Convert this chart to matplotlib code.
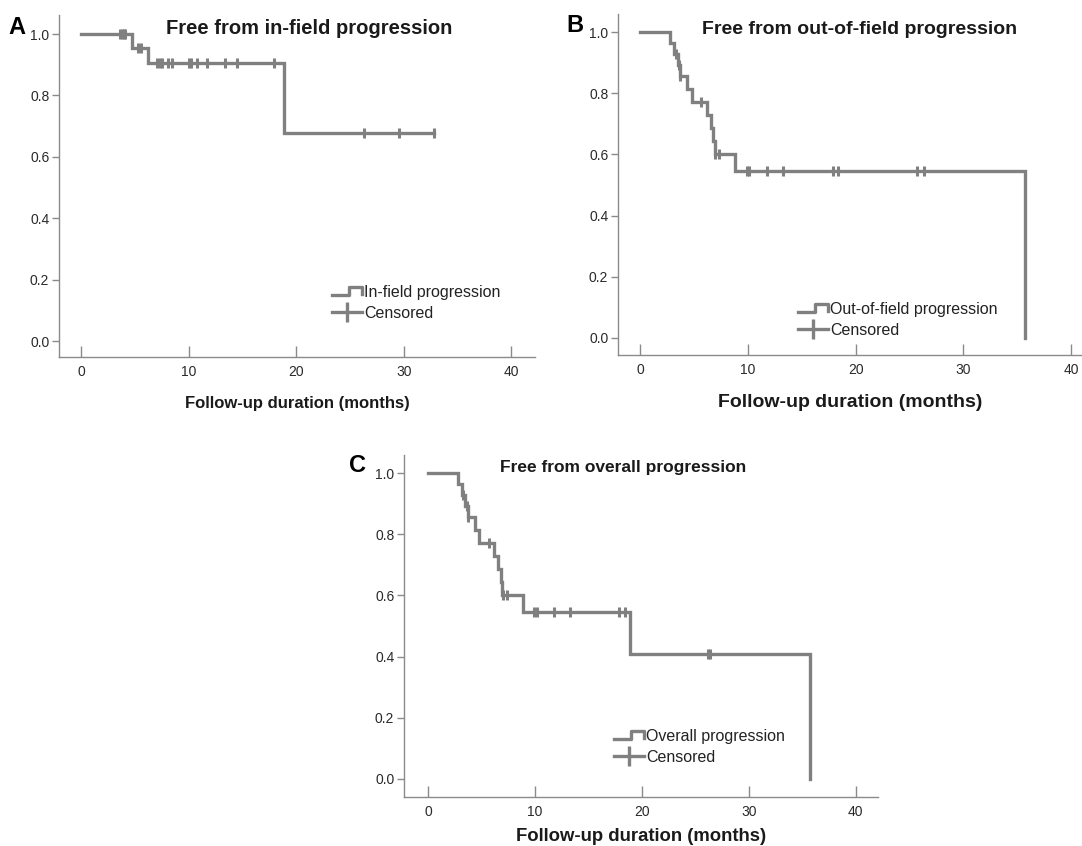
import numpy as np
import matplotlib
matplotlib.use("Agg")
import matplotlib.pyplot as plt
from matplotlib.lines import Line2D
from matplotlib.legend_handler import HandlerBase

plt.rcParams["font.family"] = ["Liberation Sans", "DejaVu Sans"]

# ---- data (months, survival probability) ----
# A: in-field progression
a_event_t = [4.75, 6.25, 18.9]
a_event_s = [0.953, 0.905, 0.679]
a_censor_t = [3.6, 3.8, 3.95, 4.1, 5.3, 5.6, 7.1, 7.3, 7.5, 8.1, 8.5, 10.0, 10.25,
              10.75, 11.75, 13.4, 14.5, 17.9, 26.3, 29.6, 32.8]
a_end = 32.8

# B: out-of-field progression
b_event_t = [2.8, 3.2, 3.5, 3.7, 4.4, 4.8, 6.2, 6.55, 6.8, 6.95, 8.85, 35.7]
b_event_s = [0.965, 0.929, 0.893, 0.855, 0.814, 0.772, 0.729, 0.687, 0.644, 0.601, 0.546, 0.0]
b_censor_t = [3.3, 3.6, 3.75, 5.7, 7.0, 7.35, 9.95, 10.1, 11.75, 13.3, 17.9, 18.4, 25.7, 26.3]
b_end = 35.7

# C: overall progression
c_event_t = [2.8, 3.2, 3.5, 3.7, 4.4, 4.8, 6.2, 6.55, 6.8, 6.95, 8.85, 18.9, 35.7]
c_event_s = [0.965, 0.929, 0.893, 0.855, 0.814, 0.772, 0.729, 0.687, 0.644, 0.601, 0.546, 0.41, 0.0]
c_censor_t = [3.3, 3.6, 3.75, 5.7, 7.0, 7.4, 9.95, 10.15, 11.75, 13.3, 17.9, 18.4, 26.2, 26.4]
c_end = 35.7

x_ticks = [0, 10, 20, 30, 40]
y_ticks = [0.0, 0.2, 0.4, 0.6, 0.8, 1.0]

LINE = "#808080"
AXC = "#8a8a8a"
W, H = 1082, 846


class StepHandler(HandlerBase):
    # legend glyph: little step shape like the KM curve
    def create_artists(self, legend, orig_handle, xdescent, ydescent, width, height, fontsize, trans):
        x0 = -xdescent
        y0 = -ydescent
        xs = [x0, x0 + 0.55 * width, x0 + 0.55 * width, x0 + width, x0 + width]
        ys = [y0 + 0.2 * height, y0 + 0.2 * height, y0 + 0.85 * height,
              y0 + 0.85 * height, y0 + 0.3 * height]
        ln = Line2D(xs, ys, color=LINE, lw=2.4, transform=trans)
        return [ln]


def px_axes(fig, left, right, top, bottom):
    return fig.add_axes([left / W, 1 - bottom / H, (right - left) / W, (bottom - top) / H])


def km_panel(ax, box, ev_t, ev_s, cen_t, end, xlim, ylim, title, tsize, title_px,
             label_name, xlabel_size, xlabel_pad, leg_px):
    left, right, top, bottom = box
    t = [0] + list(ev_t)
    s = [1.0] + list(ev_s)
    if end > t[-1]:
        t.append(end)
        s.append(s[-1])
    ax.step(t, s, where="post", color=LINE, lw=2.4, solid_joinstyle="miter")

    levels = np.array([1.0] + list(ev_s))
    idx = np.searchsorted(np.array(ev_t), np.array(cen_t), side="right")
    ax.plot(cen_t, levels[idx], ls="none", marker="|", ms=7, mew=2.2, color=LINE)

    ax.set_xlim(*xlim)
    ax.set_ylim(*ylim)
    ax.set_xticks(x_ticks)
    ax.set_yticks(y_ticks)
    ax.set_yticklabels([f"{v:.1f}" for v in y_ticks])
    for sp in ["top", "right"]:
        ax.spines[sp].set_visible(False)
    for sp in ["left", "bottom"]:
        ax.spines[sp].set_color(AXC)
        ax.spines[sp].set_linewidth(1.0)
    ax.tick_params(axis="x", direction="in", length=8, width=1, color=AXC,
                   labelsize=10, labelcolor="#2a2a2a", pad=6)
    ax.tick_params(axis="y", direction="out", length=5, width=1, color=AXC,
                   labelsize=10, labelcolor="#2a2a2a", pad=2)

    tx = (title_px[0] - left) / (right - left)
    ty = (bottom - title_px[1]) / (bottom - top)
    ax.text(tx, ty, title, transform=ax.transAxes, fontsize=tsize, fontweight="bold",
            color="#1a1a1a", ha="center", va="center")
    ax.set_xlabel("Follow-up duration (months)", fontsize=xlabel_size,
                  fontweight="bold", color="#1a1a1a", labelpad=xlabel_pad)

    lx = (leg_px[0] - left) / (right - left)
    ly = (bottom - leg_px[1]) / (bottom - top)
    h1 = Line2D([], [], color=LINE)
    h2 = Line2D([0], [0], color=LINE, lw=2.4, marker="|", ms=14, mew=2.4)
    ax.legend([h1, h2], [label_name, "Censored"], handler_map={h1: StepHandler()},
              loc="upper left", bbox_to_anchor=(lx, ly), frameon=False,
              fontsize=11.5, handlelength=1.9, handletextpad=0.1, borderpad=0,
              labelspacing=0.35, borderaxespad=0, labelcolor="#222222")


fig = plt.figure(figsize=(W / 100, H / 100), dpi=100)

boxA = (59, 535, 15, 357)
axA = px_axes(fig, *boxA)
km_panel(axA, boxA, a_event_t, a_event_s, a_censor_t, a_end, (-2.05, 42.2), (-0.052, 1.062),
         "Free from in-field progression", 14.5, (309, 29), "In-field progression", 12, 12,
         (332, 285))

boxB = (618, 1082, 14, 355)
axB = px_axes(fig, *boxB)
km_panel(axB, boxB, b_event_t, b_event_s, b_censor_t, b_end, (-2.04, 41.0), (-0.056, 1.059),
         "Free from out-of-field progression", 14, (860, 30), "Out-of-field progression", 14, 12,
         (798, 302))

boxC = (404, 878, 455, 797)
axC = px_axes(fig, *boxC)
km_panel(axC, boxC, c_event_t, c_event_s, c_censor_t, c_end, (-2.25, 42.1), (-0.059, 1.059),
         "Free from overall progression", 12.5, (623, 467), "Overall progression", 13.3, 6,
         (614, 729))

# panel letters
fig.text(17 / W, 1 - 27 / H, "A", fontsize=17, fontweight="bold", ha="center", va="center")
fig.text(575 / W, 1 - 26 / H, "B", fontsize=17, fontweight="bold", ha="center", va="center")
fig.text(358 / W, 1 - 465 / H, "C", fontsize=17, fontweight="bold", ha="center", va="center")

fig.savefig("out.png", dpi=100, facecolor="white")
